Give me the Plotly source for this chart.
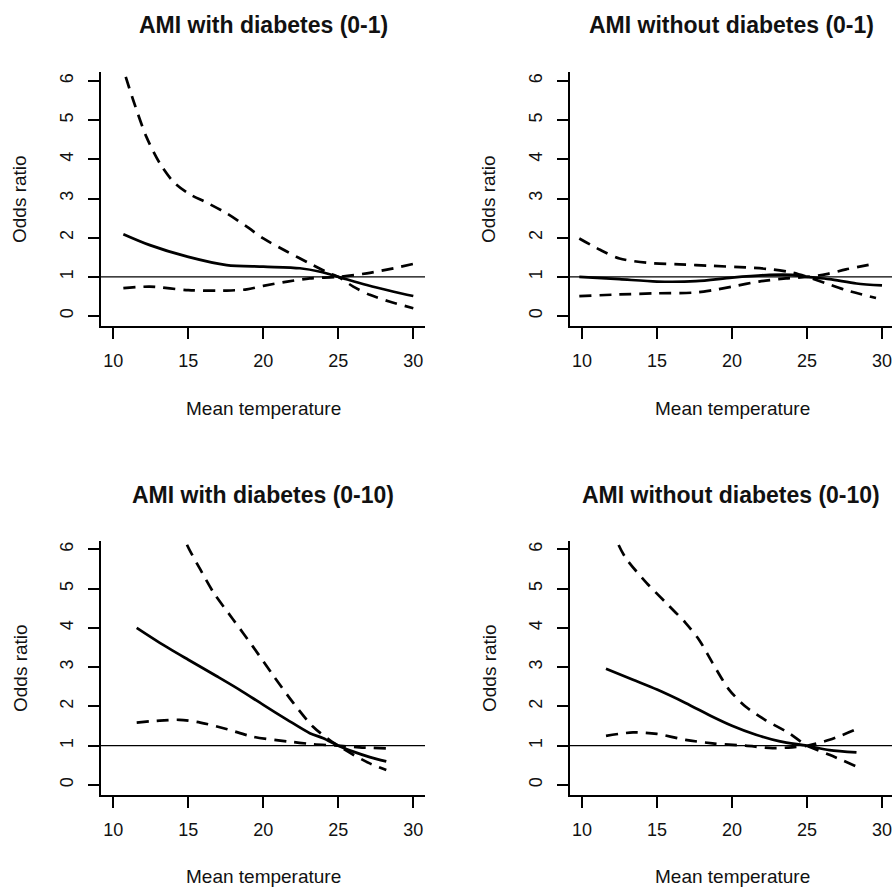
import plotly.graph_objects as go

# ---------------- data ----------------
titles = ["AMI with diabetes (0-1)", "AMI without diabetes (0-1)",
          "AMI with diabetes (0-10)", "AMI without diabetes (0-10)"]
x_ticks = [10, 15, 20, 25, 30]
y_ticks = [0, 1, 2, 3, 4, 5, 6]
x_title = "Mean temperature"
y_title = "Odds ratio"

# Panel 1: AMI with diabetes (0-1)
p1_est_x = [10.67, 12.44, 15.0, 17.56, 20.0, 22.44, 23.8, 25.0, 26.9, 28.7, 30.0]
p1_est_y = [2.09, 1.81, 1.51, 1.30, 1.26, 1.22, 1.13, 1.00, 0.79, 0.62, 0.51]
p1_up_x = [10.5, 10.71, 11.33, 12.2, 13.1, 14.0, 15.0, 16.2, 17.56, 18.9, 20.0, 21.6, 23.1, 24.4, 25.0, 26.0, 27.1, 28.4, 30.0]
p1_up_y = [6.6, 6.26, 5.51, 4.58, 3.90, 3.43, 3.13, 2.90, 2.62, 2.28, 1.98, 1.64, 1.34, 1.09, 1.00, 0.75, 0.54, 0.37, 0.20]
p1_lo_x = [10.67, 12.44, 15.0, 17.56, 18.9, 20.0, 21.6, 23.1, 25.0, 26.9, 28.7, 30.0]
p1_lo_y = [0.71, 0.75, 0.66, 0.65, 0.68, 0.77, 0.88, 0.96, 1.00, 1.09, 1.22, 1.33]

# Panel 2: AMI without diabetes (0-1)
p2_est_x = [9.82, 12.5, 15.0, 17.6, 20.0, 22.5, 24.0, 25.0, 26.5, 28.3, 30.0]
p2_est_y = [1.00, 0.94, 0.88, 0.89, 0.98, 1.05, 1.05, 1.00, 0.94, 0.83, 0.78]
p2_up_x = [9.82, 11.2, 12.5, 14.3, 16.5, 18.7, 20.9, 22.7, 24.0, 25.0, 26.3, 27.6, 29.6]
p2_up_y = [1.98, 1.69, 1.47, 1.36, 1.32, 1.28, 1.24, 1.19, 1.11, 1.00, 0.83, 0.66, 0.46]
p2_lo_x = [9.82, 12.5, 15.0, 17.6, 18.7, 20.0, 21.8, 23.6, 25.0, 26.3, 27.6, 29.6]
p2_lo_y = [0.51, 0.55, 0.58, 0.60, 0.66, 0.75, 0.88, 0.96, 1.00, 1.07, 1.19, 1.34]

# Panel 3: AMI with diabetes (0-10)
p3_est_x = [11.56, 13.1, 15.0, 16.9, 18.4, 20.0, 21.6, 23.1, 24.0, 25.0, 26.0, 27.1, 28.2]
p3_est_y = [4.00, 3.62, 3.19, 2.77, 2.43, 2.04, 1.66, 1.32, 1.19, 1.00, 0.85, 0.71, 0.60]
p3_up_x = [14.5, 14.9, 15.8, 16.7, 18.0, 19.3, 20.7, 22.0, 23.3, 24.4, 25.0, 26.0, 27.1, 28.2]
p3_up_y = [6.6, 6.13, 5.49, 4.89, 4.21, 3.53, 2.77, 2.09, 1.49, 1.15, 1.00, 0.77, 0.55, 0.38]
p3_lo_x = [11.56, 13.1, 14.4, 15.8, 17.6, 19.3, 21.6, 23.3, 25.0, 26.4, 28.2]
p3_lo_y = [1.59, 1.64, 1.66, 1.59, 1.42, 1.23, 1.11, 1.04, 1.00, 0.96, 0.93]

# Panel 4: AMI without diabetes (0-10)
p4_est_x = [11.6, 13.4, 15.0, 16.9, 18.7, 20.0, 21.6, 23.2, 25.0, 26.5, 28.3]
p4_est_y = [2.96, 2.68, 2.43, 2.09, 1.74, 1.51, 1.28, 1.11, 1.00, 0.89, 0.83]
p4_up_x = [12.1, 12.3, 12.9, 14.3, 15.6, 16.9, 17.8, 18.7, 19.8, 20.9, 22.2, 23.8, 25.0, 26.5, 28.3]
p4_up_y = [6.6, 6.24, 5.79, 5.15, 4.64, 4.13, 3.70, 3.11, 2.43, 2.00, 1.66, 1.32, 1.00, 0.77, 0.47]
p4_lo_x = [11.6, 13.4, 15.0, 16.9, 18.7, 20.9, 22.7, 24.0, 25.0, 26.5, 28.3]
p4_lo_y = [1.25, 1.34, 1.30, 1.15, 1.06, 1.00, 0.94, 0.96, 1.00, 1.15, 1.42]

reference_or = 1

panels = [
    (p1_est_x, p1_est_y, p1_up_x, p1_up_y, p1_lo_x, p1_lo_y),
    (p2_est_x, p2_est_y, p2_up_x, p2_up_y, p2_lo_x, p2_lo_y),
    (p3_est_x, p3_est_y, p3_up_x, p3_up_y, p3_lo_x, p3_lo_y),
    (p4_est_x, p4_est_y, p4_up_x, p4_up_y, p4_lo_x, p4_lo_y),
]

# ---------------- layout (pixel geometry) ----------------
W, H = 892, 887
# plot regions: (left, right, top, bottom) in pixels
regions = [(101, 425, 72, 326), (570, 892, 72, 326),
           (101, 425, 541, 795), (570, 892, 541, 795)]
x_ranges = [[9.18, 30.78], [9.2, 30.667], [9.18, 30.78], [9.2, 30.667]]
y_ranges = [[-0.255, 6.23], [-0.255, 6.23], [-0.255, 6.214], [-0.255, 6.214]]
title_pos = [(263, 25), (731, 25), (263, 495), (731, 495)]
xtitle_pos = [(263, 408), (732, 408), (263, 876), (732, 876)]
ytitle_pos = [(20, 199), (489, 199), (20, 668), (489, 668)]

FONT = "Liberation Sans, Arial, Helvetica, sans-serif"
TXT = "#111111"

fig = go.Figure()
annotations = []
shapes = []

for i, (ex, ey, ux, uy, lx, ly) in enumerate(panels):
    n = "" if i == 0 else str(i + 1)
    xa, ya = "x" + n, "y" + n
    line_solid = dict(color="black", width=2.7, shape="spline", smoothing=0.8)
    line_dash = dict(color="black", width=2.7, dash="12px,8px", shape="spline", smoothing=0.8)
    fig.add_trace(go.Scatter(x=ex, y=ey, mode="lines", line=line_solid,
                             xaxis=xa, yaxis=ya, showlegend=False, hoverinfo="skip"))
    fig.add_trace(go.Scatter(x=ux, y=uy, mode="lines", line=line_dash,
                             xaxis=xa, yaxis=ya, showlegend=False, hoverinfo="skip"))
    fig.add_trace(go.Scatter(x=lx, y=ly, mode="lines", line=line_dash,
                             xaxis=xa, yaxis=ya, showlegend=False, hoverinfo="skip"))

    l, r, t, b = regions[i]
    axis_common = dict(showgrid=False, zeroline=False, showline=True,
                       linecolor="black", linewidth=1.6, ticks="outside",
                       ticklen=11, tickwidth=1.6, tickcolor="black",
                       tickfont=dict(family=FONT, size=18, color=TXT),
                       ticklabeloverflow="allow", fixedrange=True)
    fig.layout["xaxis" + n] = dict(
        domain=[l / W, min(r / W, 1.0)], range=x_ranges[i],
        anchor=ya, tickvals=x_ticks, ticktext=[str(v) for v in x_ticks],
        ticklabelstandoff=7, **axis_common)
    fig.layout["yaxis" + n] = dict(
        domain=[1 - b / H, 1 - t / H], range=y_ranges[i],
        anchor=xa, tickvals=y_ticks, ticktext=[str(v) for v in y_ticks],
        tickangle=-90, ticklabelstandoff=8, **axis_common)

    shapes.append(dict(type="line", xref=xa + " domain", yref=ya,
                       x0=0, x1=1, y0=reference_or, y1=reference_or,
                       line=dict(color="black", width=1.3), layer="below"))

    tx, ty = title_pos[i]
    annotations.append(dict(text="<b>" + titles[i] + "</b>", x=tx / W, y=1 - ty / H,
                            xref="paper", yref="paper", showarrow=False,
                            xanchor="center", yanchor="middle",
                            font=dict(family=FONT, size=23, color=TXT)))
    mx, my = xtitle_pos[i]
    annotations.append(dict(text=x_title, x=mx / W, y=1 - my / H,
                            xref="paper", yref="paper", showarrow=False,
                            xanchor="center", yanchor="middle",
                            font=dict(family=FONT, size=19, color=TXT)))
    ox, oy = ytitle_pos[i]
    annotations.append(dict(text=y_title, x=ox / W, y=1 - oy / H,
                            xref="paper", yref="paper", showarrow=False,
                            xanchor="center", yanchor="middle", textangle=-90,
                            font=dict(family=FONT, size=19, color=TXT)))

fig.update_layout(width=W, height=H, margin=dict(l=0, r=0, t=0, b=0),
                  paper_bgcolor="white", plot_bgcolor="white",
                  annotations=annotations, shapes=shapes, showlegend=False)

fig.write_html("out.html", config={"displayModeBar": False},
               post_script="document.body.style.margin='0';document.body.style.overflow='hidden';")
